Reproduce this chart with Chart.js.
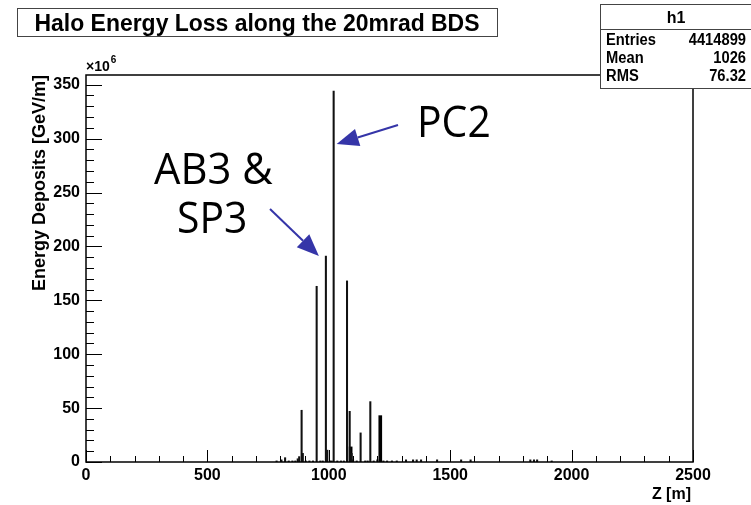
<!DOCTYPE html>
<html>
<head>
<meta charset="utf-8">
<script src="https://cdn.jsdelivr.net/npm/chart.js@4.4.1/dist/chart.umd.min.js"></script>
<style>
  html, body { margin: 0; background: #fff; }
</style>
</head>
<body>
<canvas id="c" width="751" height="505"></canvas>
<script>
// Halo energy deposits along the BDS, values in units of 10^6 GeV/m
const zPos     = [785, 805, 820, 835, 850, 862, 872, 878, 888, 893, 905, 920, 935, 950, 965, 975, 988, 994, 1005, 1012, 1020, 1035, 1050, 1062, 1075, 1086, 1094, 1100, 1115, 1131, 1150, 1160, 1171, 1185, 1200, 1225, 1240, 1260, 1280, 1318, 1347, 1362, 1380, 1446, 1545, 1584, 1830, 1845, 1858, 1918];
const deposits = [1, 2, 4, 1, 1, 1, 3, 5, 48, 8, 1, 1, 1, 163, 1, 1, 191, 11, 1, 1, 344, 1, 1, 1, 168, 47, 8, 2, 1, 27, 1, 1, 56, 1, 2, 1, 1, 1, 1, 2, 2, 2, 2, 2, 2, 2, 2, 2, 2, 1];
// wider bins (drawn thicker)
const zThick   = [1090, 1212];
const depThick = [14, 43];

const xTicks = [0, 500, 1000, 1500, 2000, 2500];
const yTicks = [0, 50, 100, 150, 200, 250, 300, 350];
const statLabels = ['Entries', 'Mean', 'RMS'];
const statValues = ['4414899', '1026', '76.32'];

const HELV = '"Liberation Sans", Arial, Helvetica, sans-serif';
const NOTE = '"Open Sans", "Noto Sans", sans-serif';

function arrow(ctx, x1, y1, x2, y2) {
    const ang = Math.atan2(y2 - y1, x2 - x1);
    const hl = 22, hw = 9;
    const bx = x2 - hl * Math.cos(ang), by = y2 - hl * Math.sin(ang);
    ctx.beginPath();
    ctx.moveTo(x1, y1);
    ctx.lineTo(bx, by);
    ctx.stroke();
    ctx.beginPath();
    ctx.moveTo(x2, y2);
    ctx.lineTo(bx + hw * Math.sin(ang), by - hw * Math.cos(ang));
    ctx.lineTo(bx - hw * Math.sin(ang), by + hw * Math.cos(ang));
    ctx.closePath();
    ctx.fill();
}

// text squeezed a bit horizontally, like the ROOT canvas
function tallText(ctx, txt, x, y, sx) {
    ctx.save();
    ctx.translate(x, y);
    ctx.scale(sx, 1);
    ctx.fillText(txt, 0, 0);
    ctx.restore();
}

const deco = {
    id: 'deco',
    beforeDraw(chart) {
        const c = chart.ctx;
        c.save();
        c.fillStyle = '#fff';
        c.fillRect(0, 0, chart.width, chart.height);
        c.restore();
    },
    afterDraw(chart) {
        const { ctx, chartArea: a, scales: { x, y } } = chart;
        ctx.save();

        // frame
        ctx.strokeStyle = '#000';
        ctx.lineWidth = 1.5;
        ctx.strokeRect(a.left, a.top, a.right - a.left, a.bottom - a.top);

        // ROOT style ticks, drawn inside the frame
        ctx.lineWidth = 1;
        ctx.beginPath();
        for (let v = 0; v <= x.max; v += 100) {
            const px = Math.round(x.getPixelForValue(v)) + 0.5;
            const len = v % 500 === 0 ? 12 : 6;
            ctx.moveTo(px, a.bottom);
            ctx.lineTo(px, a.bottom - len);
        }
        for (let v = 0; v <= y.max; v += 10) {
            const py = Math.round(y.getPixelForValue(v)) + 0.5;
            const len = v % 50 === 0 ? 16 : 8;
            ctx.moveTo(a.left, py);
            ctx.lineTo(a.left + len, py);
        }
        ctx.stroke();

        // axis titles
        ctx.fillStyle = '#000';
        ctx.font = 'bold 16px ' + HELV;
        ctx.textAlign = 'right';
        ctx.textBaseline = 'alphabetic';
        ctx.fillText('Z [m]', a.right - 2, 499);
        ctx.save();
        ctx.translate(45, a.top);
        ctx.rotate(-Math.PI / 2);
        ctx.textAlign = 'right';
        ctx.font = 'bold 18px ' + HELV;
        ctx.fillText('Energy Deposits [GeV/m]', 0, 0);
        ctx.restore();

        // exponent
        ctx.textAlign = 'left';
        ctx.font = 'bold 14px ' + HELV;
        ctx.fillText('\u00d710', a.left, a.top - 4);
        const w10 = ctx.measureText('\u00d710').width;
        ctx.font = 'bold 10px ' + HELV;
        ctx.fillText('6', a.left + w10 + 1, a.top - 12);

        // title box
        ctx.fillStyle = '#fff';
        ctx.fillRect(17, 8, 480, 28);
        ctx.strokeStyle = '#444';
        ctx.lineWidth = 1;
        ctx.strokeRect(17.5, 8.5, 480, 28);
        ctx.fillStyle = '#000';
        ctx.font = 'bold 24px ' + HELV;
        ctx.textAlign = 'left';
        const tw = ctx.measureText('Halo Energy Loss along the 20mrad BDS').width;
        const tsx = 445 / tw;
        tallText(ctx, 'Halo Energy Loss along the 20mrad BDS', 257 - 222.5, 31, tsx);

        // stats box
        ctx.fillStyle = '#fff';
        ctx.fillRect(600, 4, 160, 84);
        ctx.strokeRect(600.5, 4.5, 160, 84);
        ctx.beginPath();
        ctx.moveTo(600, 29.5);
        ctx.lineTo(751, 29.5);
        ctx.stroke();
        ctx.fillStyle = '#000';
        ctx.font = 'bold 16px ' + HELV;
        ctx.textAlign = 'center';
        ctx.fillText('h1', 676, 23);
        statLabels.forEach((lab, i) => {
            const by = 45 + i * 18;
            ctx.textAlign = 'left';
            tallText(ctx, lab, 606, by, 0.92);
            ctx.textAlign = 'right';
            tallText(ctx, statValues[i], 746, by, 0.92);
        });

        // annotations
        ctx.fillStyle = '#000';
        ctx.textAlign = 'left';
        ctx.font = '44px ' + NOTE;
        tallText(ctx, 'PC2', 417, 137, 0.93);
        tallText(ctx, 'AB3 &', 154, 184, 0.95);
        tallText(ctx, 'SP3', 177, 233, 0.93);

        ctx.strokeStyle = '#3535a8';
        ctx.fillStyle = '#3535a8';
        ctx.lineWidth = 2;
        arrow(ctx, 398, 125, x.getPixelForValue(1020) + 3, y.getPixelForValue(295));
        arrow(ctx, 270, 209, x.getPixelForValue(988) - 7, y.getPixelForValue(191));

        ctx.restore();
    }
};

new Chart(document.getElementById('c'), {
    type: 'bar',
    data: {
        datasets: [
            {
                data: zPos.map((z, i) => ({ x: z, y: deposits[i] })),
                backgroundColor: '#111',
                barThickness: 1.4
            },
            {
                data: zThick.map((z, i) => ({ x: z, y: depThick[i] })),
                backgroundColor: '#000',
                barThickness: 3
            }
        ]
    },
    options: {
        responsive: false,
        animation: false,
        layout: { padding: { top: 75, right: 58, left: 0, bottom: 0 } },
        plugins: { legend: { display: false }, tooltip: { enabled: false } },
        datasets: { bar: { grouped: false } },
        scales: {
            x: {
                type: 'linear',
                min: 0,
                max: 2500,
                offset: false,
                grid: { display: false, drawTicks: false },
                border: { display: false },
                afterBuildTicks: s => { s.ticks = xTicks.map(v => ({ value: v })); },
                afterFit: s => { s.height = 43; },
                ticks: {
                    padding: 4,
                    maxRotation: 0,
                    color: '#000',
                    callback: v => String(v),
                    font: { family: HELV, size: 16, weight: 'bold' }
                }
            },
            y: {
                min: 0,
                max: 359,
                grid: { display: false, drawTicks: false },
                border: { display: false },
                afterBuildTicks: s => { s.ticks = yTicks.map(v => ({ value: v })); },
                afterFit: s => { s.width = 86; },
                ticks: {
                    padding: 6,
                    color: '#000',
                    callback: v => String(v),
                    font: { family: HELV, size: 16, weight: 'bold' }
                }
            }
        }
    },
    plugins: [deco]
});
</script>
</body>
</html>
